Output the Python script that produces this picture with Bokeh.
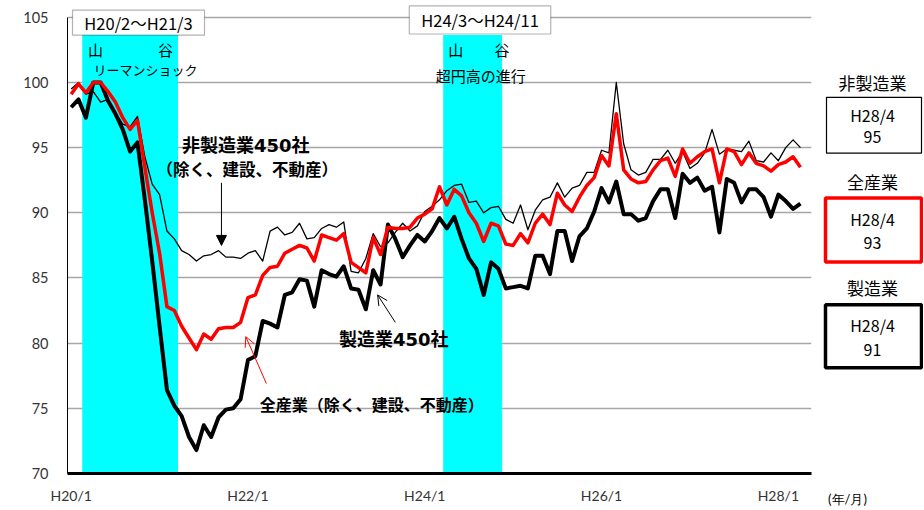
from bokeh.plotting import figure
from bokeh.layouts import row
from bokeh.models import BoxAnnotation, Label, Arrow, NormalHead, OpenHead, FixedTicker
from bokeh.core.properties import value
from bokeh.embed import file_html
from bokeh.resources import INLINE

# ---------------- data ----------------
months = list(range(100))  # H20/1 .. H28/4

mfg = [98.1, 98.7, 97.3, 100.0, 100.0, 98.6, 97.6, 96.4, 94.7, 95.4,
       91.0, 86.3, 81.3, 76.4, 75.2, 74.4, 72.8, 71.8, 73.7, 72.8,
       74.3, 74.9, 75.0, 75.7, 78.7, 79.0, 81.7, 81.5, 81.2, 83.7,
       83.9, 84.9, 84.8, 82.8, 85.6, 85.3, 85.1, 85.9, 84.2, 84.1,
       82.6, 85.6, 84.5, 89.1, 88.0, 86.6, 87.5, 88.3, 87.8, 88.6,
       89.6, 88.8, 89.7, 88.0, 86.5, 85.7, 83.7, 86.2, 85.7, 84.2,
       84.3, 84.4, 84.2, 86.7, 86.7, 85.3, 88.6, 88.6, 86.3, 88.2,
       88.8, 90.1, 91.9, 90.8, 92.4, 89.9, 89.9, 89.4, 89.6, 90.9,
       91.8, 91.8, 89.6, 93.0, 92.3, 92.7, 91.7, 92.0, 88.5, 92.6,
       92.3, 90.8, 91.8, 91.8, 91.2, 89.7, 91.4, 90.9, 90.3, 90.7]

all_ind = [99.1, 99.9, 99.2, 100.0, 100.0, 99.3, 98.5, 97.3, 96.4, 97.1,
           93.5, 90.0, 86.9, 82.8, 82.5, 81.3, 80.4, 79.5, 80.7, 80.3,
           81.1, 81.2, 81.2, 81.6, 83.5, 83.7, 85.2, 85.8, 85.9, 86.9,
           87.2, 87.5, 87.3, 86.3, 88.3, 88.1, 87.9, 88.4, 86.2, 85.8,
           85.4, 88.1, 86.8, 88.9, 88.8, 88.8, 88.9, 89.6, 89.9, 90.3,
           92.0, 90.6, 91.8, 91.3, 90.0, 89.2, 87.8, 89.2, 89.0, 87.6,
           87.5, 88.4, 87.7, 89.2, 89.9, 89.1, 91.5, 90.6, 90.1, 91.2,
           92.1, 92.7, 94.4, 93.6, 97.6, 93.3, 92.6, 92.3, 92.4, 93.3,
           94.0, 94.2, 92.8, 94.9, 93.8, 94.3, 94.7, 94.9, 92.3, 94.9,
           94.7, 93.7, 94.6, 93.8, 93.6, 93.2, 93.7, 93.9, 94.3, 93.5]

nonmfg = [99.5, 100.0, 99.1, 99.3, 98.5, 98.7, 97.7, 96.8, 96.6, 97.4,
          94.3, 92.2, 91.4, 88.6, 88.0, 87.1, 86.8, 86.3, 86.7, 86.8,
          87.1, 86.6, 86.6, 86.5, 86.9, 87.1, 86.3, 88.6, 88.9, 88.3,
          88.5, 89.2, 88.0, 88.1, 88.8, 89.1, 88.9, 89.3, 85.5, 85.4,
          86.5, 88.4, 87.4, 87.7, 88.5, 89.2, 88.6, 89.0, 90.1, 90.5,
          91.0, 91.7, 92.1, 92.2, 90.8, 90.9, 90.0, 90.4, 90.5, 89.5,
          89.2, 90.6, 88.7, 90.2, 91.0, 91.2, 92.3, 91.2, 91.9, 92.1,
          93.1, 93.1, 94.8, 94.6, 100.0, 95.3, 93.3, 92.9, 93.1, 94.1,
          94.1, 94.8, 93.8, 94.7, 93.4, 93.8, 94.6, 96.4, 94.5, 94.9,
          94.8, 94.7, 95.5, 94.0, 93.9, 94.6, 94.0, 95.0, 95.6, 95.0]

tick_pos = [0, 24, 48, 72, 96]
tick_labels = ["H20/1", "H22/1", "H24/1", "H26/1", "H28/1"]
y_ticks = [70, 75, 80, 85, 90, 95, 100, 105]

band_starts = [1.5, 50.5]
band_ends = [14.5, 58.5]
band_periods = ["H20/2〜H21/3", "H24/3〜H24/11"]
band_events = ["リーマンショック", "超円高の進行"]

legend_names = ["非製造業", "全産業", "製造業"]
legend_month = "H28/4"
legend_values = [95, 93, 91]
unit_label = "(年/月)"

JP = "Noto Sans CJK JP"
WIDE = "DejaVu Sans, Noto Sans CJK JP"
H = 509
FRAME_H = 474

# ---------------- main figure ----------------
p = figure(width=816, height=H, x_range=(-0.5, 100.5), y_range=(70, 106.29),
           output_backend="svg", toolbar_location=None,
           min_border_left=67, min_border_right=5, min_border_top=0,
           min_border_bottom=H - FRAME_H)
p.outline_line_color = None
p.background_fill_color = "white"
p.border_fill_color = "white"

p.xgrid.grid_line_color = None
p.ygrid.grid_line_color = "#a6a6a6"
p.ygrid.grid_line_width = 1.6
p.yaxis.ticker = FixedTicker(ticks=y_ticks)
p.yaxis.bounds = (70, 105)
p.xaxis.ticker = FixedTicker(ticks=tick_pos)
p.xaxis.major_label_overrides = {t: l for t, l in zip(tick_pos, tick_labels)}

for ax in (p.xaxis, p.yaxis):
    ax.major_tick_line_color = None
    ax.minor_tick_line_color = None
    ax.axis_line_color = "black"
    ax.major_label_text_font = "Lato"
    ax.major_label_text_color = "#333333"
p.yaxis.axis_line_width = 1
p.yaxis.major_label_text_font_size = "14.5px"
p.yaxis.major_label_standoff = 13
p.xaxis.axis_line_width = 3
p.xaxis.major_label_text_font_size = "14px"
p.xaxis.major_label_standoff = 7

# cyan bands
band_top = 103.65
p.quad(left=band_starts, right=band_ends, bottom=[70] * 2, top=[band_top] * 2,
       fill_color="#00ffff", line_color=None)

# lines
p.line(months, mfg, line_color="black", line_width=4, line_join="round")
p.line(months, nonmfg, line_color="black", line_width=1.3, line_join="round")
p.line(months, all_ind, line_color="#ff0000", line_width=3.5, line_join="round")

# period boxes
p.add_layout(BoxAnnotation(left=0.18, right=18.1, bottom=103.64, top=105.55,
                           fill_color="white", fill_alpha=1,
                           line_color="black", line_width=1.2))
p.add_layout(BoxAnnotation(left=45.9, right=65.1, bottom=103.72, top=105.87,
                           fill_color="white", fill_alpha=1,
                           line_color="black", line_width=1.2))
p.add_layout(Label(x=9.14, y=104.56, text=band_periods[0], text_font=JP,
                   text_font_size="16.5px", text_align="center",
                   text_baseline="middle", text_color="black"))
p.add_layout(Label(x=55.5, y=104.79, text=band_periods[1], text_font=JP,
                   text_font_size="16.5px", text_align="center",
                   text_baseline="middle", text_color="black"))

# 山 / 谷
for xx, t in [(3.3, "山"), (12.8, "谷"), (52.2, "山"), (58.5, "谷")]:
    p.add_layout(Label(x=xx, y=102.5, text=t, text_font=JP, text_font_size="15px",
                       text_align="center", text_baseline="middle",
                       text_color="black"))
p.add_layout(Label(x=10.1, y=100.97, text=band_events[0], text_font=JP,
                   text_font_size="13px", text_align="center",
                   text_baseline="middle", text_color="black"))
p.add_layout(Label(x=55.6, y=100.5, text=band_events[1], text_font=JP,
                   text_font_size="15px", text_align="center",
                   text_baseline="middle", text_color="black"))

# series annotations
def bold_label(x, y, t, size, font=JP):
    p.add_layout(Label(x=x, y=y, text=t, text_font=font, text_font_size=size,
                       text_font_style="bold", text_align="center",
                       text_baseline="middle", text_color="black"))

bold_label(23.7, 95.2, "非製造業450社", "18px", WIDE)
bold_label(23.9, 93.4, "（除く、建設、不動産）", "16.5px")
bold_label(43.8, 80.3, "製造業450社", "18px", WIDE)
bold_label(40.8, 75.3, "全産業（除く、建設、不動産）", "16px")

p.add_layout(Arrow(end=NormalHead(size=10, fill_color="black", line_color="black"),
                   x_start=20.4, y_start=92.3, x_end=20.4, y_end=87.5,
                   line_color="black", line_width=1))
p.add_layout(Arrow(end=OpenHead(size=10, line_color="black", line_width=1),
                   x_start=44.0, y_start=81.6, x_end=41.6, y_end=83.7,
                   line_color="black", line_width=1))
p.add_layout(Arrow(end=OpenHead(size=10, line_color="#ff0000", line_width=1),
                   x_start=26.5, y_start=76.9, x_end=23.7, y_end=80.5,
                   line_color="#ff0000", line_width=1))

# ---------------- right-hand legend panel ----------------
# (its frame is aligned with the main frame: 0..FRAME_H px from the top)
q = figure(width=107, height=H, x_range=(816, 923), y_range=(FRAME_H, 0),
           output_backend="svg", toolbar_location=None, y_axis_type=None,
           min_border_left=0, min_border_right=0, min_border_top=0,
           min_border_bottom=H - FRAME_H)
q.outline_line_color = None
q.grid.grid_line_color = None
q.background_fill_color = "white"
q.border_fill_color = "white"
q.xaxis.ticker = FixedTicker(ticks=[847])
q.xaxis.major_label_overrides = {847: unit_label}
q.xaxis.axis_line_color = None
q.xaxis.major_tick_line_color = None
q.xaxis.minor_tick_line_color = None
q.xaxis.major_tick_out = 0
q.xaxis.major_tick_in = 0
q.xaxis.minor_tick_out = 0
q.xaxis.major_label_text_font = "Lato"
q.xaxis.major_label_text_font_size = "13px"
q.xaxis.major_label_text_color = "black"
q.xaxis.major_label_standoff = 17

box_left = [826, 825, 825]
box_right = [921, 921, 921]
box_top = [97, 198, 305]
box_bottom = [153, 262, 368]
box_colors = ["black", "#ff0000", "black"]
box_widths = [1.2, 3.5, 3.5]
title_y = [82, 181, 288]
month_y = [115, 219, 325]
value_y = [137, 243, 350]

for i in range(3):
    q.quad(left=[box_left[i]], right=[box_right[i]], top=[box_top[i]],
           bottom=[box_bottom[i]], fill_color="white",
           line_color=box_colors[i], line_width=box_widths[i])

cx = [872] * 3
q.text(x=cx, y=title_y, text=legend_names, text_font=value(JP),
       text_font_size="17px", text_align="center", text_baseline="middle",
       text_color="black")
q.text(x=cx, y=month_y, text=[legend_month] * 3, text_font=value(JP),
       text_font_size="16px", text_align="center", text_baseline="middle",
       text_color="black")
q.text(x=cx, y=value_y, text=[str(v) for v in legend_values], text_font=value(JP),
       text_font_size="16px", text_align="center", text_baseline="middle",
       text_color="black")

layout = row(p, q)
open("out.html", "w").write(file_html(layout, INLINE))
